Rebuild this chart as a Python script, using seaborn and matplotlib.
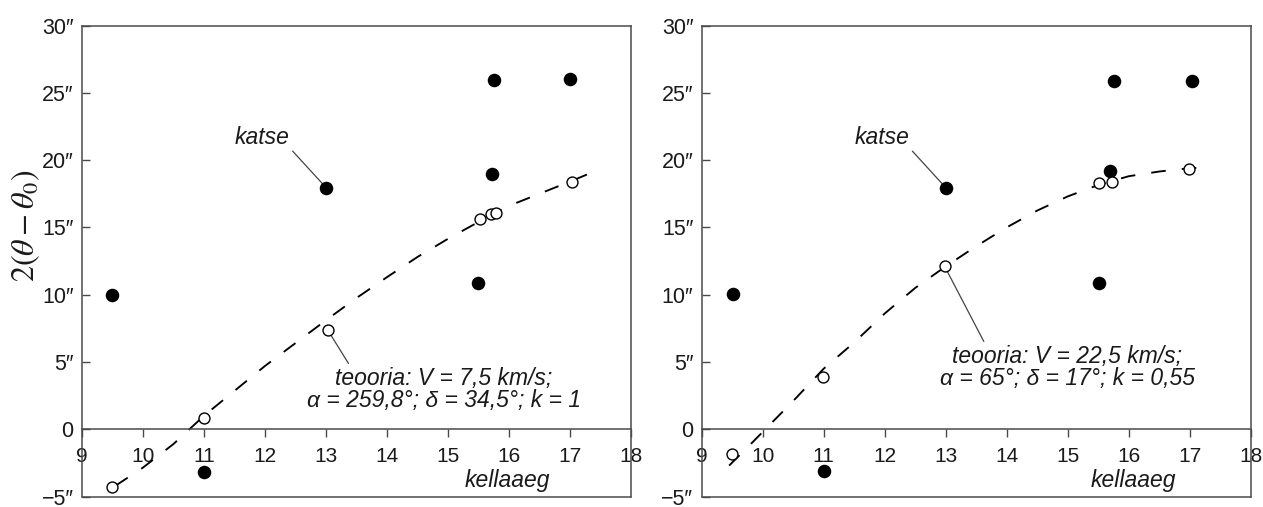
import matplotlib
matplotlib.use("Agg")
import matplotlib.pyplot as plt
import seaborn as sns
import pandas as pd

# hours (kellaaeg) and measured / theoretical 2(theta - theta0) in arcsec
expHoursLeft = [9.5, 11.0, 13.0, 15.5, 15.72, 15.76, 17.0]
expValuesLeft = [9.95, -3.17, 17.96, 10.9, 19.0, 25.96, 26.0]
theoHoursLeft = [9.49, 11.0, 13.03, 15.52, 15.71, 15.78, 17.04]
theoValuesLeft = [-4.3, 0.8, 7.36, 15.6, 15.99, 16.1, 18.35]
curveHoursLeft = [9.55, 10.0, 10.5, 11.0, 11.5, 12.0, 12.5, 13.0, 13.5, 14.0, 14.5, 15.0, 15.5, 16.0, 16.5, 17.0, 17.36]
curveValuesLeft = [-4.2, -2.85, -1.1, 1.0, 2.85, 4.7, 6.4, 8.1, 9.75, 11.3, 12.8, 14.15, 15.4, 16.6, 17.5, 18.4, 19.08]

expHoursRight = [9.51, 11.0, 13.0, 15.51, 15.69, 15.76, 17.03]
expValuesRight = [10.05, -3.12, 17.95, 10.9, 19.2, 25.9, 25.9]
theoHoursRight = [9.49, 10.99, 12.98, 15.52, 15.73, 16.98]
theoValuesRight = [-1.81, 3.89, 12.12, 18.27, 18.39, 19.35]
curveHoursRight = [9.45, 9.75, 10.0, 10.5, 11.0, 11.5, 12.0, 12.5, 13.0, 13.5, 14.0, 14.5, 15.0, 15.5, 16.0, 16.5, 17.0, 17.3]
curveValuesRight = [-2.7, -1.35, -0.2, 2.1, 4.5, 6.45, 8.6, 10.5, 12.1, 13.6, 15.0, 16.25, 17.3, 18.15, 18.8, 19.15, 19.4, 19.45]

xTicks = [9, 10, 11, 12, 13, 14, 15, 16, 17, 18]
yTicks = [-5, 0, 5, 10, 15, 20, 25, 30]
yTickLabels = ["\u22125\u2033", "0", "5\u2033", "10\u2033", "15\u2033", "20\u2033", "25\u2033", "30\u2033"]

theoryTexts = [
    "teooria: V = 7,5 km/s;\n\u03b1 = 259,8\u00b0; \u03b4 = 34,5\u00b0; k = 1",
    "teooria: V = 22,5 km/s;\n\u03b1 = 65\u00b0; \u03b4 = 17\u00b0; k = 0,55",
]

sns.set_style("ticks")
plt.rcParams['font.family'] = ['Liberation Sans', 'DejaVu Sans']
plt.rcParams['mathtext.fontset'] = 'stix'

spineColor = '#4a4a4a'
lineColor = '#444444'
textColor = '#1a1a1a'


def drawPanel(ax, expX, expY, theoX, theoY, curveX, curveY, theoryText, theoryPos, theoryRel, labelX):
    curvedf = pd.DataFrame({'Hour': curveX, 'Value': curveY})
    expdf = pd.DataFrame({'Hour': expX, 'Value': expY})
    theodf = pd.DataFrame({'Hour': theoX, 'Value': theoY})

    line = sns.lineplot(data=curvedf, x='Hour', y='Value', ax=ax, color='black', lw=1.35, zorder=2)
    line.lines[0].set_dashes((7.8, 8.6))
    sns.scatterplot(data=expdf, x='Hour', y='Value', ax=ax, color='black', s=95,
                    edgecolor='black', linewidth=0, zorder=4)
    sns.scatterplot(data=theodf, x='Hour', y='Value', ax=ax, color='white', s=62,
                    edgecolor='black', linewidth=1.0, zorder=4)

    ax.set_xlim(9, 18)
    ax.set_ylim(-5, 30)
    ax.set_xticks(xTicks)
    ax.set_xticklabels([str(t) for t in xTicks])
    ax.set_yticks(yTicks)
    ax.set_yticklabels(yTickLabels)

    # x axis sits on the zero line, the frame still closes at -5
    ax.spines['bottom'].set_position(('data', 0))
    for side in ['left', 'right', 'top', 'bottom']:
        ax.spines[side].set_visible(True)
        ax.spines[side].set_color(spineColor)
        ax.spines[side].set_linewidth(1.1)
    ax.axhline(-5, color=spineColor, lw=1.1, clip_on=False, zorder=5)

    ax.tick_params(axis='x', direction='out', length=5.5, width=1.0, color=spineColor,
                   labelsize=15, pad=7, labelcolor=textColor)
    ax.tick_params(axis='y', direction='in', length=6, width=1.0, color=spineColor,
                   labelsize=15.5, pad=6, labelcolor=textColor)

    ax.set_xlabel('kellaaeg', fontsize=16.5, fontstyle='italic', color=textColor)
    ax.xaxis.set_label_coords(labelX, 0.035)
    ax.xaxis.label.set_verticalalignment('center')
    ax.set_ylabel('')

    # katse label points at the measured value at 13 h
    ax.annotate('katse', xy=(expX[2], expY[2]), xytext=(11.95, 21.7),
                fontsize=16.5, fontstyle='italic', ha='center', va='center', color=textColor,
                arrowprops=dict(arrowstyle='-', color=lineColor, lw=0.9,
                                shrinkA=0, shrinkB=0, relpos=(1.0, 0.05)))
    ax.annotate(theoryText, xy=(theoX[2], theoY[2]), xytext=theoryPos,
                fontsize=16.5, fontstyle='italic', ha='center', va='center',
                multialignment='center', linespacing=0.95, color=textColor,
                arrowprops=dict(arrowstyle='-', color=lineColor, lw=0.9,
                                shrinkA=0, shrinkB=4, relpos=theoryRel))
    return ax


fig = plt.figure(figsize=(12.63, 5.07), dpi=100)
axLeft = fig.add_axes([0.0649, 0.0207, 0.4347, 0.929])
axRight = fig.add_axes([0.5556, 0.0207, 0.4347, 0.929])

drawPanel(axLeft, expHoursLeft, expValuesLeft, theoHoursLeft, theoValuesLeft,
          curveHoursLeft, curveValuesLeft, theoryTexts[0], (14.93, 2.97), (0.16, 1.0), 0.774)
drawPanel(axRight, expHoursRight, expValuesRight, theoHoursRight, theoValuesRight,
          curveHoursRight, curveValuesRight, theoryTexts[1], (14.99, 4.6), (0.18, 1.0), 0.786)

axLeft.set_ylabel(r'$2(\theta - \theta_0)$', fontsize=23, color=textColor)
axLeft.yaxis.set_label_coords(-0.072, 0.575)

fig.savefig('out.png', dpi=100)
